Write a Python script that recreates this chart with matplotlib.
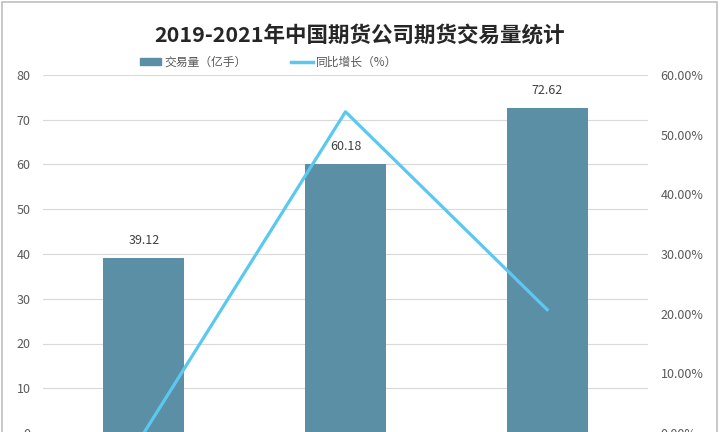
import matplotlib.pyplot as plt
import matplotlib.patches as mpatches
import numpy as np

plt.rcParams['font.family'] = ['Noto Sans CJK SC', 'DejaVu Sans']

years = ['2019', '2020', '2021']
volume = [39.12, 60.18, 72.62]          # 交易量（亿手）
growth = [0.0, 53.84, 20.67]            # 同比增长（%）

bar_color = '#5B8FA6'
line_color = '#5BC8F0'
grey_text = '#595959'

fig = plt.figure(figsize=(7.2, 4.32), dpi=100)
ax = fig.add_axes([43 / 720, -1 / 432, 605 / 720, 358 / 432])
ax2 = ax.twinx()

x = np.arange(len(years))
ax.bar(x, volume, width=0.4, color=bar_color, zorder=2, label='交易量（亿手）')
ax2.plot(x, growth, color=line_color, linewidth=2.3, zorder=3, label='同比增长（%）')

for xi, v in zip(x, volume):
    ax.annotate(f'{v:.2f}', (xi, v), xytext=(0, 8), textcoords='offset points',
                ha='center', va='bottom', fontsize=9, color='#404040')

ax.set_xlim(-0.5, 2.5)
ax.set_ylim(0, 80)
ax.set_yticks(range(0, 81, 10))
ax2.set_ylim(0, 60)
ax2.set_yticks(range(0, 61, 10))
ax2.set_yticklabels([f'{t:.2f}%' for t in range(0, 61, 10)])
# category labels fall below the visible area in the reference
ax.set_xticks(x)
ax.set_xticklabels([])

ax.grid(axis='y', color='#D9D9D9', linewidth=0.8, zorder=0)
ax.set_axisbelow(True)
for a in (ax, ax2):
    for s in a.spines.values():
        s.set_visible(False)
    a.tick_params(length=0, labelsize=9, labelcolor=grey_text, pad=9)
ax.set_zorder(ax2.get_zorder() - 1)
ax.patch.set_visible(False)
ax2.patch.set_visible(False)

fig.text(0.5, 1 - 35 / 432, '2019-2021年中国期货公司期货交易量统计', ha='center', va='center',
         fontsize=15.5, fontweight='bold', color='#262626')

handles = [mpatches.Patch(color=bar_color, label='交易量（亿手）'),
           plt.Line2D([], [], color=line_color, linewidth=2.5, label='同比增长（%）')]
fig.legend(handles=handles, loc='center', bbox_to_anchor=(0.373, 1 - 62 / 432), ncol=2,
           frameon=False, fontsize=8.5, labelcolor=grey_text, handlelength=1.8,
           handleheight=0.6, handletextpad=0.3, columnspacing=3.8)

fig.patches.append(mpatches.Rectangle((2 / 720, -0.1), 715 / 720, 1.1 - 2 / 432,
                                      transform=fig.transFigure, fill=False,
                                      edgecolor='#BFBFBF', linewidth=1.2))

fig.savefig('out.png', dpi=100)
